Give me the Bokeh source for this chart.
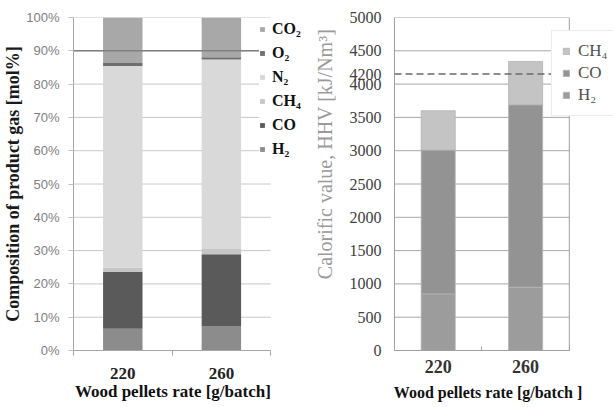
from bokeh.plotting import figure
from bokeh.models import (FixedTicker, Span, Legend, LegendItem, Range1d,
                          PrintfTickFormatter, ColumnDataSource)
from bokeh.layouts import row
from bokeh.embed import file_html
from bokeh.resources import INLINE

# ---------------- data ----------------
categories = ["220", "260"]

comp_species = ["H2", "CO", "CH4", "N2", "O2", "CO2"]
comp_labels = ["H₂", "CO", "CH₄", "N₂", "O₂", "CO₂"]
comp_H2 = [6.5, 7.2]
comp_CO = [17.1, 21.7]
comp_CH4 = [1.3, 1.6]
comp_N2 = [60.5, 56.9]
comp_O2 = [0.9, 0.7]
comp_CO2 = [13.7, 11.9]
comp_colors = ["#8c8c8c", "#5a5a5a", "#c6c6c6", "#d9d9d9", "#6e6e6e", "#a8a8a8"]
comp_ticks = [0, 10, 20, 30, 40, 50, 60, 70, 80, 90, 100]
comp_ref = 90

hhv_species = ["H2", "CO", "CH4"]
hhv_labels = ["H₂", "CO", "CH₄"]
hhv_H2 = [850, 950]
hhv_CO = [2160, 2740]
hhv_CH4 = [590, 650]
hhv_colors = ["#9c9c9c", "#939393", "#c4c4c4"]
hhv_ticks = [0, 500, 1000, 1500, 2000, 2500, 3000, 3500, 4000, 4500, 5000]
hhv_ref = 4150
hhv_ref_label = "4200"

SERIF = "Liberation Serif"
SANS = "Liberation Sans"
NB = "\u00a0"

ncat = len(categories)
xs = [i + 0.5 for i in range(ncat)]
bounds = [float(i) for i in range(ncat + 1)]
overrides = {x: c for x, c in zip(xs, categories)}

# ---------------- left chart ----------------
W1, L1 = 310, 72
CAT1 = 99.0                      # pixels per category
frame1 = W1 - L1
src1 = ColumnDataSource(dict(x=xs, H2=comp_H2, CO=comp_CO, CH4=comp_CH4,
                             N2=comp_N2, O2=comp_O2, CO2=comp_CO2))
p1 = figure(width=W1, height=406, x_range=Range1d(0, frame1 / CAT1),
            y_range=Range1d(0, 100), output_backend="svg", toolbar_location=None,
            min_border_left=L1, min_border_right=0, min_border_top=16,
            min_border_bottom=49)
p1.outline_line_color = None
p1.grid.visible = False
# horizontal grid lines limited to the category area
p1.segment(x0=[0] * len(comp_ticks), x1=[ncat] * len(comp_ticks),
           y0=comp_ticks, y1=comp_ticks, line_color="#c8c8c8", line_width=1)
r1 = p1.vbar_stack(comp_species, x="x", width=0.4, color=comp_colors,
                   line_color=None, source=src1)
p1.segment(x0=[0], x1=[ncat], y0=[comp_ref], y1=[comp_ref],
           line_color="#808080", line_width=1.5)

ya = p1.yaxis[0]
ya.ticker = FixedTicker(ticks=comp_ticks)
ya.formatter = PrintfTickFormatter(format="%d%%")
ya.axis_line_color = "#a6a6a6"
ya.major_tick_line_color = "#c0c0c0"
ya.major_tick_out = 5
ya.major_tick_in = 0
ya.minor_tick_line_color = None
ya.major_label_text_font = SANS
ya.major_label_text_font_size = "13px"
ya.major_label_text_color = "#808080"
ya.major_label_standoff = 9
ya.axis_label = "Composition of product gas [mol%]"
ya.axis_label_text_font = SERIF
ya.axis_label_text_font_style = "bold"
ya.axis_label_text_font_size = "18px"
ya.axis_label_text_color = "#1a1a1a"
ya.axis_label_standoff = 0

xa = p1.xaxis[0]
xa.bounds = (0, ncat)
xa.ticker = FixedTicker(ticks=xs, minor_ticks=bounds)
xa.major_label_overrides = overrides
xa.major_tick_line_color = None
xa.major_tick_out = 0
xa.minor_tick_line_color = "#a6a6a6"
xa.minor_tick_out = 5
xa.minor_tick_in = 0
xa.axis_line_color = "#a6a6a6"
xa.major_label_text_font = SERIF
xa.major_label_text_font_style = "bold"
xa.major_label_text_font_size = "17px"
xa.major_label_text_color = "#222222"
xa.major_label_standoff = 12
xa.axis_label = "Wood pellets rate [g/batch]" + NB * 9
xa.axis_label_text_font = SERIF
xa.axis_label_text_font_style = "bold"
xa.axis_label_text_font_size = "17px"
xa.axis_label_text_color = "#111111"
xa.axis_label_standoff = 0

items1 = [LegendItem(label=lab, renderers=[r]) for lab, r in zip(comp_labels, r1)][::-1]
leg1 = Legend(items=items1, location=(186, 191), label_text_font=SERIF,
              label_text_font_style="bold", label_text_font_size="16px",
              label_text_color="#111111", glyph_width=6, glyph_height=6,
              label_standoff=7, spacing=4, label_height=20, padding=4, margin=0,
              background_fill_color="white", background_fill_alpha=1.0,
              border_line_color=None)
p1.add_layout(leg1)

# ---------------- right chart ----------------
W2, L2 = 303, 80
CAT2 = 89.0
frame2 = W2 - L2
src2 = ColumnDataSource(dict(x=xs, H2=hhv_H2, CO=hhv_CO, CH4=hhv_CH4))
p2 = figure(width=W2, height=406, x_range=Range1d(0, frame2 / CAT2),
            y_range=Range1d(0, 5000), output_backend="svg", toolbar_location=None,
            min_border_left=L2, min_border_right=0, min_border_top=17,
            min_border_bottom=56)
p2.outline_line_color = None
p2.grid.visible = False
p2.segment(x0=[0] * len(hhv_ticks), x1=[ncat] * len(hhv_ticks),
           y0=hhv_ticks, y1=hhv_ticks, line_color="#a8a8a8", line_width=1)
r2 = p2.vbar_stack(hhv_species, x="x", width=0.39, color=hhv_colors,
                   line_color="#b4b4b4", line_width=0.8, source=src2)
p2.add_layout(Span(location=ncat, dimension="height", line_color="#a0a0a0",
                   line_width=1))
p2.add_layout(Span(location=hhv_ref, dimension="width", line_color="#6a6a6a",
                   line_width=1.5, line_dash="7 4", level="overlay"))

ya2 = p2.yaxis[0]
ya2.ticker = FixedTicker(ticks=hhv_ticks + [hhv_ref])
ya2.major_label_overrides = {hhv_ref: hhv_ref_label}
ya2.axis_line_color = "#a0a0a0"
ya2.major_tick_line_color = None
ya2.minor_tick_line_color = None
ya2.major_tick_out = 0
ya2.major_label_text_font = SERIF
ya2.major_label_text_font_size = "16px"
ya2.major_label_text_color = "#404040"
ya2.major_label_standoff = 13
ya2.axis_label = NB * 12 + "Calorific value, HHV [kJ/Nm³]"
ya2.axis_label_text_font = SERIF
ya2.axis_label_text_font_style = "normal"
ya2.axis_label_text_font_size = "20px"
ya2.axis_label_text_color = "#9a9a9a"
ya2.axis_label_standoff = 11

xa2 = p2.xaxis[0]
xa2.bounds = (0, ncat)
xa2.ticker = FixedTicker(ticks=xs, minor_ticks=bounds)
xa2.major_label_overrides = overrides
xa2.major_tick_line_color = None
xa2.major_tick_out = 0
xa2.minor_tick_line_color = "#a0a0a0"
xa2.minor_tick_out = 0
xa2.minor_tick_in = 4
xa2.axis_line_color = "#a0a0a0"
xa2.major_label_text_font = SERIF
xa2.major_label_text_font_style = "bold"
xa2.major_label_text_font_size = "18px"
xa2.major_label_text_color = "#333333"
xa2.major_label_standoff = 9
xa2.axis_label = "Wood pellets rate [g/batch ]" + NB * 8
xa2.axis_label_text_font = SERIF
xa2.axis_label_text_font_style = "bold"
xa2.axis_label_text_font_size = "16px"
xa2.axis_label_text_color = "#111111"
xa2.axis_label_standoff = 8

items2 = [LegendItem(label=lab, renderers=[r]) for lab, r in zip(hhv_labels, r2)][::-1]
leg2 = Legend(items=items2, location=(157, 234), label_text_font=SERIF,
              label_text_font_size="17px", label_text_color="#505050",
              glyph_width=8, glyph_height=8, label_standoff=8, spacing=2,
              label_height=20, padding=10, margin=0,
              background_fill_color="white", background_fill_alpha=1.0,
              border_line_color="#d9d9d9")
p2.add_layout(leg2)

layout = row(p1, p2)
open("out.html", "w").write(file_html(layout, INLINE))
